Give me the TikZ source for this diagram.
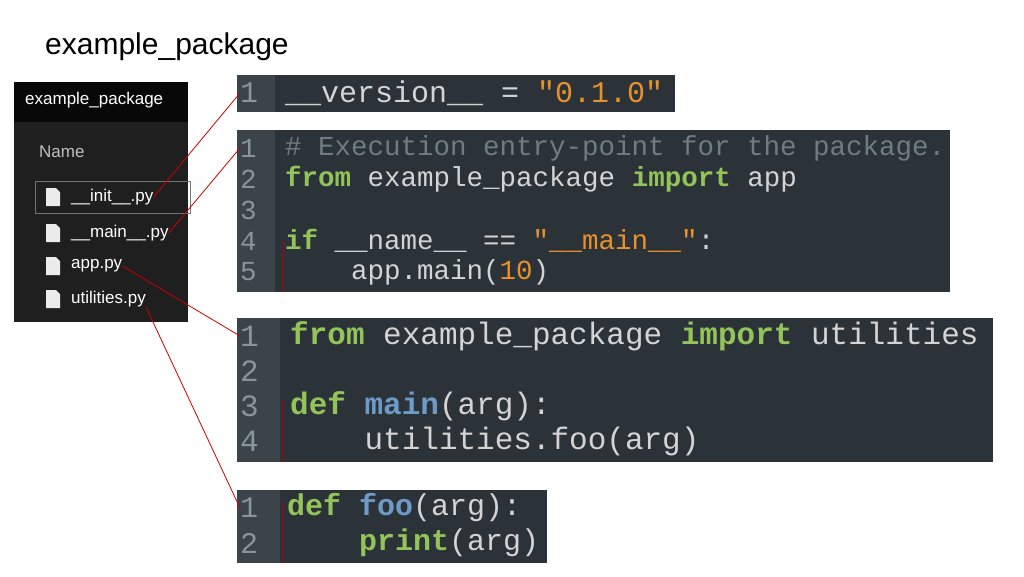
\documentclass[tikz,border=0pt]{standalone}
\usepackage{fontspec}
\setmainfont{Liberation Sans}
\newfontfamily\codefont{Liberation Mono}
\begin{document}
\begin{tikzpicture}[x=1pt,y=-1pt,
  codebg/.style={fill=codeback,draw=none},
  gut/.style={fill=gutterc,draw=none},
  cl/.style={anchor=west,inner sep=0pt,text=codetext},
  ln/.style={anchor=west,inner sep=0pt,text=lnum},
  fname/.style={anchor=west,inner sep=0pt,text=white,font=\fontsize{17}{17}\selectfont},
  link/.style={draw=red!80!black,line width=0.8pt},
  fold/.style={draw=red!70!black,line width=0.8pt}]
\definecolor{codeback}{HTML}{2B3338}
\definecolor{gutterc}{HTML}{3A444A}
\definecolor{codetext}{HTML}{D4D4D4}
\definecolor{lnum}{HTML}{8A9599}
\definecolor{kw}{HTML}{93C45A}
\definecolor{fn}{HTML}{6E9AC8}
\definecolor{str}{HTML}{E8912D}
\definecolor{cmt}{HTML}{6F7C82}
\newcommand{\K}[1]{\textcolor{kw}{\textbf{#1}}}
\newcommand{\F}[1]{\textcolor{fn}{\textbf{#1}}}
\newcommand{\Sg}[1]{\textcolor{str}{#1}}
\newcommand{\Y}[1]{\textcolor{str}{#1}}
\useasboundingbox (0,0) rectangle (1024,576);
\fill[white] (0,0) rectangle (1024,576);
\node[anchor=west,inner sep=0pt,font=\fontsize{30}{30}\selectfont] (title) at (45,47) {example\_package};
% explorer
\fill[black!88] (14,82) rectangle (188,322);
\fill[black!97] (14,82) rectangle (188,122);
\node[fname] (hdr) at (25,100) {example\_package};
\node[fname,text=black!25] (name) at (39,152) {Name};
\draw[black!55] (35,181) rectangle (190,213);
\foreach \y/\n/\t in {197/init/{\_\_init\_\_.py},233/main/{\_\_main\_\_.py},266/app/{app.py},299/util/{utilities.py}}{
  \fill[white!92!black] (46,\y-9) -- (56,\y-9) -- (60,\y-5) -- (60,\y+9) -- (46,\y+9) -- cycle;
  \node[fname] (\n) at (71,\y) {\t};
}
% block 1
\fill[codeback] (237,75) rectangle (675,112);
\fill[gutterc] (237,75) rectangle (275,112);
\node[ln,font=\codefont\fontsize{30}{30}\selectfont] (b1l) at (240,93) {1};
\node[cl,font=\codefont\fontsize{30}{30}\selectfont] (b1) at (285,93) {\_\_version\_\_ = \Sg{"0.1.0"}};
% block 2
\fill[codeback] (237,130) rectangle (950,292);
\fill[gutterc] (237,130) rectangle (275,292);
\begin{scope}[font=\codefont\fontsize{27.5}{27.5}\selectfont]
\foreach \i/\y in {1/148,2/179,3/210,4/241,5/272} \node[ln] (b2n\i) at (240,\y) {\i};
\node[cl] (b2a) at (285,148) {\textcolor{cmt}{\# Execution entry-point for the package.}};
\node[cl] (b2b) at (285,179) {\K{from} example\_package \K{import} app};
\node[cl] (b2d) at (285,241) {\K{if} \_\_name\_\_ == \Sg{"\_\_main\_\_"}:};
\node[cl] (b2e) at (285,272) {\ \ \ \ app.main(\Y{10})};
\end{scope}
\draw[fold] (283,241) -- (283,292);
% block 3
\fill[codeback] (237,318) rectangle (993,462);
\fill[gutterc] (237,318) rectangle (280,462);
\begin{scope}[font=\codefont\fontsize{31}{31}\selectfont]
\foreach \i/\y in {1/336,2/371,3/406,4/441} \node[ln] (b3n\i) at (240,\y) {\i};
\node[cl] (b3a) at (290,336) {\K{from} example\_package \K{import} utilities};
\node[cl] (b3c) at (290,406) {\K{def} \F{main}(arg):};
\node[cl] (b3d) at (290,441) {\ \ \ \ utilities.foo(arg)};
\end{scope}
\draw[fold] (282,400) -- (282,462);
% block 4
\fill[codeback] (237,490) rectangle (547,563);
\fill[gutterc] (237,490) rectangle (280,563);
\begin{scope}[font=\codefont\fontsize{30}{30}\selectfont]
\foreach \i/\y in {1/508,2/543} \node[ln] (b4n\i) at (240,\y) {\i};
\node[cl] (b4a) at (287,508) {\K{def} \F{foo}(arg):};
\node[cl] (b4b) at (287,543) {\ \ \ \ \K{print}(arg)};
\end{scope}
\draw[fold] (283,502) -- (283,563);
% links
\draw[link] (init.east) -- (b1l.west);
\draw[link] (main.east) -- (b2n1.west);
\draw[link] (app.east) -- (b3n1.west);
\draw[link] (util.south east) -- (b4n1.west);
\end{tikzpicture}
\end{document}
